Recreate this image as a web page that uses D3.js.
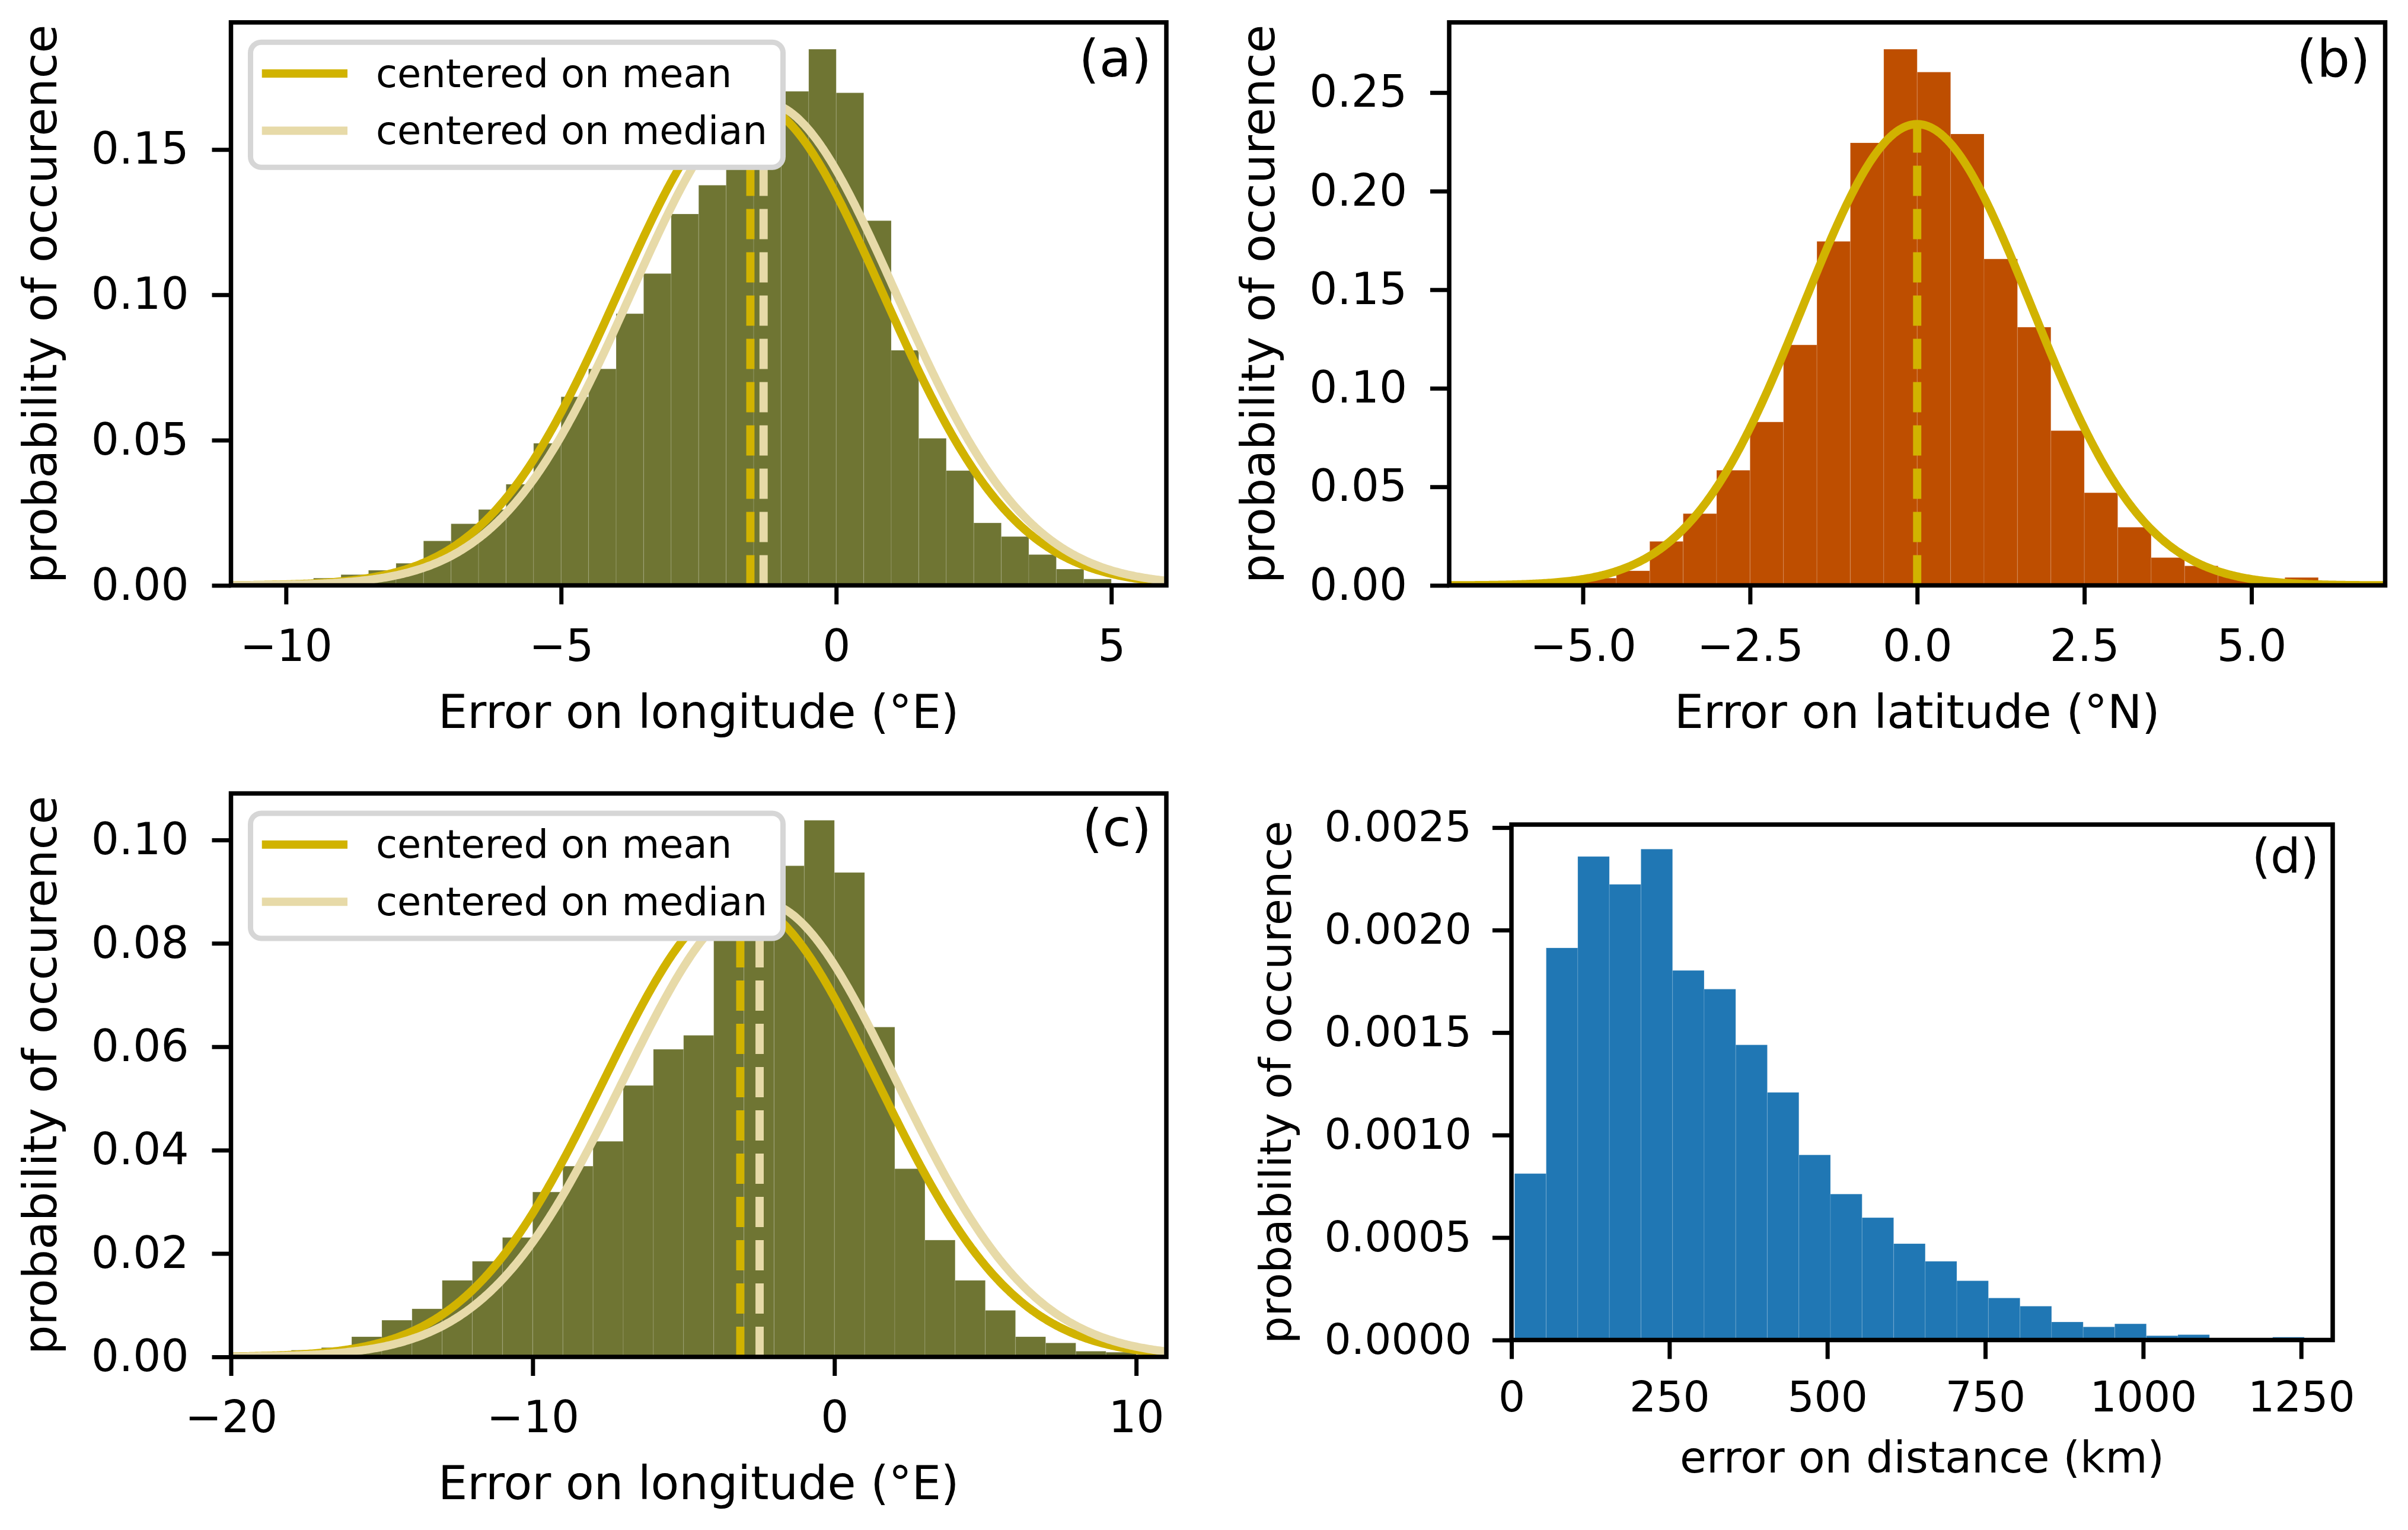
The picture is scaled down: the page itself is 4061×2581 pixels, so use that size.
<!DOCTYPE html>
<html><head><meta charset="utf-8">
<script src="https://cdn.jsdelivr.net/npm/d3@7"></script>
<style>html,body{margin:0;padding:0;background:#fff;} svg{display:block;}</style>
</head><body>
<script>
// ---------- DATA ----------
// (a) error on longitude, bins of 0.5 deg
const binLeftsA = [-9.5,-9,-8.5,-8,-7.5,-7,-6.5,-6,-5.5,-5,-4.5,-4,-3.5,-3,-2.5,-2,-1.5,-1,-0.5,0,0.5,1,1.5,2,2.5,3,3.5,4,4.5];
const densityA  = [0.0025,0.0037,0.0052,0.0076,0.0153,0.0212,0.0261,0.0348,0.0489,0.0649,0.0745,0.0935,0.1073,0.1278,0.1377,0.152,0.163,0.170,0.1845,0.1695,0.1255,0.0809,0.0506,0.0395,0.0215,0.0168,0.0106,0.0056,0.0022];
const binWidthA = 0.5;
// (b) error on latitude, bins of 0.5 deg
const binLeftsB = [-5,-4.5,-4,-3.5,-3,-2.5,-2,-1.5,-1,-0.5,0,0.5,1,1.5,2,2.5,3,3.5,4,4.5,5,5.5];
const densityB  = [0.0037,0.0074,0.0223,0.0364,0.0584,0.0829,0.1220,0.1745,0.2245,0.2720,0.2604,0.2290,0.1656,0.1310,0.0785,0.0470,0.0295,0.0141,0.0099,0.0050,0.0025,0.0040];
const binWidthB = 0.5;
// (c) error on longitude, bins of 1 deg
const binLeftsC = [-18,-17,-16,-15,-14,-13,-12,-11,-10,-9,-8,-7,-6,-5,-4,-3,-2,-1,0,1,2,3,4,5,6,7,8,9];
const densityC  = [0.0013,0.0018,0.0039,0.0071,0.0093,0.0148,0.0185,0.0231,0.0319,0.0369,0.0417,0.0525,0.0595,0.0622,0.088,0.092,0.0950,0.1038,0.0937,0.0638,0.0364,0.0226,0.0148,0.0090,0.0039,0.0027,0.0011,0.0009];
const binWidthC = 1;
// (d) error on distance, bins of 50 km
const binLeftsD = [5,55,105,155,205,255,305,355,405,455,505,555,605,655,705,755,805,855,905,955,1005,1055,1105,1155,1205];
const densityD  = [0.000812,0.001913,0.002359,0.002223,0.002395,0.001803,0.001712,0.00144,0.001208,0.000903,0.000712,0.000597,0.00047,0.000384,0.000289,0.000205,0.000165,0.000088,0.000064,0.000079,0.000021,0.000026,0.00001,0.000005,0.000014];
const binWidthD = 50;

// fitted normal curves (location of mean / median, standard deviation)
const fitMeanA = -1.56, fitMedianA = -1.32, fitSdA = 2.40;
const fitMeanB = 0.0, fitSdB = 1.705;
const fitMeanC = -3.12, fitMedianC = -2.48, fitSdC = 4.53;

// axis ranges and ticks
const xDomainA = [-11, 6],  xTicksA = [-10,-5,0,5],            yTicksA = [0,0.05,0.10,0.15];
const xDomainB = [-7, 7],   xTicksB = [-5,-2.5,0,2.5,5],        yTicksB = [0,0.05,0.10,0.15,0.20,0.25];
const xDomainC = [-20, 11], xTicksC = [-20,-10,0,10],           yTicksC = [0,0.02,0.04,0.06,0.08,0.10];
const xDomainD = [0, 1300], xTicksD = [0,250,500,750,1000,1250], yTicksD = [0,0.0005,0.0010,0.0015,0.0020,0.0025];

const legendLabels = ["centered on mean", "centered on median"];
const panelLabels = ["(a)","(b)","(c)","(d)"];
const yLabel = "probability of occurence";
const xLabels = ["Error on longitude (°E)","Error on latitude (°N)","Error on longitude (°E)","error on distance (km)"];

// ---------- DRAWING ----------
const W = 4061, H = 2581;
const COL_OLIVE = "#6f7533", COL_ORANGE = "#be4e00", COL_BLUE = "#2077b4";
const COL_MEAN = "#d1b300", COL_MEDIAN = "#e7daa8";
const FONT = '"DejaVu Sans", "Liberation Sans", sans-serif';

const svg = d3.select("body").append("svg")
  .attr("width", W).attr("height", H)
  .attr("viewBox", `0 0 ${W} ${H}`)
  .style("font-family", FONT);
svg.append("rect").attr("width", W).attr("height", H).attr("fill", "#fff");

function normPdf(x, m, s) { return Math.exp(-0.5 * ((x - m) / s) ** 2) / (s * Math.sqrt(2 * Math.PI)); }

function drawPanel(cfg) {
  const {L, R, T, B} = cfg.box;
  const g = svg.append("g");
  const x = d3.scaleLinear().domain(cfg.xDomain).range([L, R]);
  const yMax = d3.max(cfg.density) * 1.05;
  const y = d3.scaleLinear().domain([0, yMax]).range([B, T]);

  const clipId = "clip" + cfg.idx;
  svg.append("clipPath").attr("id", clipId).append("rect")
    .attr("x", L).attr("y", T).attr("width", R - L).attr("height", B - T);
  const plot = g.append("g").attr("clip-path", `url(#${clipId})`);

  // bars
  const bins = cfg.binLefts.map((l, i) => ({l, r: l + cfg.binWidth, v: cfg.density[i]}));
  plot.selectAll("rect.bar").data(bins).enter().append("rect")
    .attr("class", "bar")
    .attr("x", d => x(d.l)).attr("width", d => x(d.r) - x(d.l))
    .attr("y", d => y(d.v)).attr("height", d => y(0) - y(d.v))
    .attr("fill", cfg.color)
    .attr("stroke", "rgba(255,255,255,0.10)").attr("stroke-width", 1.5);

  // curves
  const lw = 13.9;
  const line = d3.line().x(d => x(d[0])).y(d => y(d[1]));
  const sampleX = d3.range(cfg.xDomain[0], cfg.xDomain[1] + 0.001, (cfg.xDomain[1] - cfg.xDomain[0]) / 600);
  const fits = [];
  if (cfg.fitMean !== undefined) fits.push({c: cfg.fitMean, color: COL_MEAN});
  if (cfg.fitMedian !== undefined) fits.push({c: cfg.fitMedian, color: COL_MEDIAN});
  fits.forEach(f => {
    plot.append("path")
      .datum(sampleX.map(v => [v, normPdf(v, f.c, cfg.fitSd)]))
      .attr("d", line).attr("fill", "none")
      .attr("stroke", f.color).attr("stroke-width", lw)
      .attr("stroke-linejoin", "round");
  });
  fits.forEach(f => {
    plot.append("line")
      .attr("x1", x(f.c)).attr("x2", x(f.c))
      .attr("y1", y(0)).attr("y2", y(normPdf(f.c, f.c, cfg.fitSd)))
      .attr("stroke", f.color).attr("stroke-width", lw)
      .attr("stroke-dasharray", "51,22");
  });

  // axes
  const fs = cfg.tickFont;
  const xAxis = d3.axisBottom(x).tickValues(cfg.xTicks).tickFormat(d3.format(cfg.xFmt))
    .tickSize(32).tickPadding(cfg.xPad);
  const yAxis = d3.axisLeft(y).tickValues(cfg.yTicks).tickFormat(d3.format(cfg.yFmt))
    .tickSize(32).tickPadding(cfg.yPad);
  const gx = g.append("g").attr("transform", `translate(0,${B})`).call(xAxis);
  const gy = g.append("g").attr("transform", `translate(${L},0)`).call(yAxis);
  [gx, gy].forEach(a => {
    a.select(".domain").remove();
    a.selectAll(".tick line").attr("stroke", "#000").attr("stroke-width", 7);
    a.selectAll(".tick text").attr("font-size", fs).attr("fill", "#000").attr("font-family", FONT);
  });

  // spines
  g.append("rect").attr("x", L).attr("y", T).attr("width", R - L).attr("height", B - T)
    .attr("fill", "none").attr("stroke", "#000").attr("stroke-width", 7.5);

  // labels
  g.append("text").attr("x", (L + R) / 2).attr("y", B + cfg.xLabelOff)
    .attr("text-anchor", "middle").attr("font-size", cfg.labelFont).text(cfg.xLabel);
  g.append("text").attr("transform", `translate(${L - cfg.yLabelOff},${(T + B) / 2}) rotate(-90)`)
    .attr("text-anchor", "middle").attr("font-size", cfg.labelFont).text(yLabel);

  // legend
  if (cfg.legend) {
    const lg = g.append("g");
    lg.append("rect").attr("x", 422.5).attr("y", T + 33.4).attr("width", 898).attr("height", 211)
      .attr("rx", 18).attr("ry", 18)
      .attr("fill", "#fff").attr("stroke", "#d6d6d6").attr("stroke-width", 9);
    const rows = [{label: legendLabels[0], color: COL_MEAN, dy: 86.2},
                  {label: legendLabels[1], color: COL_MEDIAN, dy: 182.7}];
    rows.forEach(r => {
      lg.append("line").attr("x1", 441.7).attr("x2", 586).attr("y1", T + r.dy).attr("y2", T + r.dy)
        .attr("stroke", r.color).attr("stroke-width", lw);
      lg.append("text").attr("x", 634).attr("y", T + r.dy + 22.5)
        .attr("font-size", 65.5).attr("fill", "#000").text(r.label);
    });
  }

  // panel label
  g.append("text").attr("x", R - cfg.plOffX).attr("y", T + cfg.plOffY)
    .attr("text-anchor", "end").attr("font-size", cfg.plFont).text(cfg.panelLabel);
}

const common = {tickFont: 74, labelFont: 78, xPad: 42.5, yPad: 39, xLabelOff: 240, yLabelOff: 295, plFont: 88, plOffX: 25, plOffY: 91};

drawPanel(Object.assign({}, common, {
  idx: 0, box: {L: 389.5, R: 1967, T: 37.8, B: 987.5},
  xDomain: xDomainA, xTicks: xTicksA, yTicks: yTicksA, xFmt: "d", yFmt: ".2f",
  binLefts: binLeftsA, density: densityA, binWidth: binWidthA, color: COL_OLIVE,
  fitMean: fitMeanA, fitMedian: fitMedianA, fitSd: fitSdA, legend: true,
  xLabel: xLabels[0], panelLabel: panelLabels[0]
}));
drawPanel(Object.assign({}, common, {
  idx: 1, box: {L: 2444, R: 4022.5, T: 37.8, B: 987.5},
  xDomain: xDomainB, xTicks: xTicksB, yTicks: yTicksB, xFmt: ".1f", yFmt: ".2f",
  binLefts: binLeftsB, density: densityB, binWidth: binWidthB, color: COL_ORANGE,
  fitMean: fitMeanB, fitSd: fitSdB, legend: false,
  xLabel: xLabels[1], panelLabel: panelLabels[1]
}));
drawPanel(Object.assign({}, common, {
  idx: 2, box: {L: 389.5, R: 1967, T: 1338.5, B: 2289},
  xDomain: xDomainC, xTicks: xTicksC, yTicks: yTicksC, xFmt: "d", yFmt: ".2f",
  binLefts: binLeftsC, density: densityC, binWidth: binWidthC, color: COL_OLIVE,
  fitMean: fitMeanC, fitMedian: fitMedianC, fitSd: fitSdC, legend: true,
  xLabel: xLabels[2], panelLabel: panelLabels[2], plOffY: 88
}));
drawPanel(Object.assign({}, common, {
  idx: 3, box: {L: 2549, R: 3934, T: 1391, B: 2260.5},
  xDomain: xDomainD, xTicks: xTicksD, yTicks: yTicksD, xFmt: "d", yFmt: ".4f",
  binLefts: binLeftsD, density: densityD, binWidth: binWidthD, color: COL_BLUE,
  legend: false, tickFont: 71, labelFont: 73, xPad: 37.6, yPad: 35,
  xLabelOff: 223, yLabelOff: 372, plFont: 80, plOffX: 23, plOffY: 81,
  xLabel: xLabels[3], panelLabel: panelLabels[3]
}));
</script>
</body></html>
